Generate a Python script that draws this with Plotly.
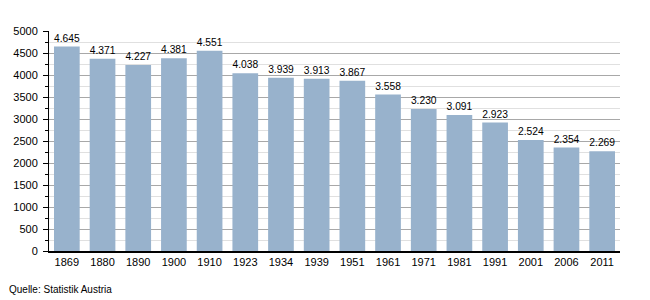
import plotly.graph_objects as go

years = ["1869", "1880", "1890", "1900", "1910", "1923", "1934", "1939", "1951", "1961", "1971", "1981", "1991", "2001", "2006", "2011"]
population = [4645, 4371, 4227, 4381, 4551, 4038, 3939, 3913, 3867, 3558, 3230, 3091, 2923, 2524, 2354, 2269]
y_ticks = [0, 500, 1000, 1500, 2000, 2500, 3000, 3500, 4000, 4500, 5000]

labels = [f"{v:,}".replace(",", ".") for v in population]

fig = go.Figure(go.Bar(
    x=years, y=population, text=labels, textposition="outside",
    textfont=dict(size=11, color="black", family="Liberation Sans, Arial"),
    marker=dict(color="#98b2cc", line=dict(width=0)),
    cliponaxis=False,
))

fig.update_layout(
    width=650, height=300,
    margin=dict(l=49, r=30, t=31, b=49),
    plot_bgcolor="white", paper_bgcolor="white",
    font=dict(family="Liberation Sans, Arial", size=11, color="black"),
    bargap=0.28,
    showlegend=False,
    xaxis=dict(
        type="category", showline=True, linecolor="black", linewidth=1.5,
        ticks="", showgrid=False, tickfont=dict(size=11),
    ),
    yaxis=dict(
        range=[0, 5000], tickvals=y_ticks, showline=True, linecolor="black", linewidth=1,
        ticks="outside", ticklen=5, tickcolor="black", ticklabelstandoff=3,
        showgrid=True, gridcolor="#a8a8a8", gridwidth=1, zeroline=False,
        tickfont=dict(size=11),
        minor=dict(dtick=250, showgrid=True, gridcolor="#e0e0e0", ticks="outside", ticklen=3, tickcolor="black"),
    ),
    annotations=[dict(
        text="Quelle: Statistik Austria", xref="paper", yref="paper",
        x=-42/571, y=-31/220, xanchor="left", yanchor="top", showarrow=False,
        font=dict(size=10, color="black"),
    )],
)

fig.write_html("out.html")
